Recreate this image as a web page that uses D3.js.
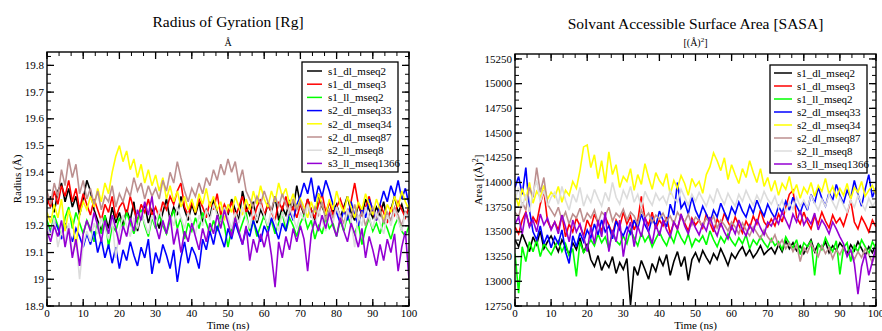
<!DOCTYPE html>
<html><head><meta charset="utf-8">
<script src="https://cdn.jsdelivr.net/npm/d3@7"></script>
<style>body{margin:0;background:#fff}svg{display:block}text{font-family:"Liberation Serif","Times New Roman",serif}</style>
</head><body>
<svg id="c" width="882" height="331" font-family="Liberation Serif, serif"></svg>
<script>
const seriesNames = ["s1_dl_mseq2","s1_dl_mseq3","s1_ll_mseq2","s2_dl_mseq33","s2_dl_mseq34","s2_dl_mseq87","s2_ll_mseq8","s3_ll_mseq1366"];
const seriesColors = ["#000000","#ff0000","#00ff00","#0000ff","#ffff00","#bc8f8f","#dcdcdc","#9400d3"];
const timeNs = d3.range(0, 101, 1);
const xTicks = [0,10,20,30,40,50,60,70,80,90,100];
const rgTicks = [18.9,19,19.1,19.2,19.3,19.4,19.5,19.6,19.7,19.8];
const sasaTicks = [12750,13000,13250,13500,13750,14000,14250,14500,14750,15000,15250];

// Radius of gyration (Å)
const rg_s1_dl_mseq2 = [19.28,19.31,19.25,19.33,19.36,19.29,19.34,19.27,19.31,19.24,19.30,19.37,19.33,19.26,19.22,19.18,19.24,19.19,19.27,19.21,19.25,19.20,19.26,19.22,19.29,19.18,19.24,19.28,19.21,19.26,19.23,19.19,19.25,19.30,19.22,19.27,19.24,19.31,19.26,19.22,19.28,19.24,19.29,19.21,19.26,19.23,19.30,19.25,19.20,19.27,19.24,19.30,19.26,19.22,19.33,19.27,19.24,19.29,19.21,19.26,19.23,19.28,19.25,19.31,19.22,19.27,19.24,19.29,19.26,19.35,19.28,19.24,19.30,19.26,19.22,19.32,19.27,19.24,19.29,19.25,19.28,19.23,19.27,19.31,19.25,19.22,19.28,19.24,19.30,19.26,19.23,19.27,19.24,19.29,19.22,19.26,19.31,19.25,19.28,19.23,19.27];
const rg_s1_dl_mseq3 = [19.30,19.27,19.33,19.28,19.35,19.31,19.37,19.29,19.34,19.26,19.32,19.28,19.24,19.30,19.26,19.22,19.28,19.25,19.31,19.23,19.27,19.29,19.24,19.31,19.26,19.22,19.28,19.25,19.30,19.24,19.27,19.23,19.29,19.26,19.31,19.28,19.33,19.36,19.27,19.24,19.29,19.25,19.30,19.27,19.23,19.29,19.26,19.32,19.24,19.28,19.25,19.29,19.23,19.27,19.31,19.25,19.28,19.22,19.27,19.30,19.24,19.28,19.25,19.22,19.29,19.26,19.31,19.24,19.27,19.23,19.28,19.25,19.30,19.26,19.23,19.28,19.32,19.25,19.29,19.24,19.27,19.30,19.26,19.23,19.29,19.36,19.28,19.24,19.27,19.31,19.25,19.22,19.28,19.25,19.21,19.27,19.24,19.29,19.26,19.23,19.27];
const rg_s1_ll_mseq2 = [19.22,19.18,19.24,19.20,19.16,19.23,19.27,19.19,19.25,19.21,19.17,19.22,19.19,19.14,19.21,19.17,19.24,19.12,19.20,19.18,19.23,19.19,19.25,19.21,19.17,19.22,19.26,19.20,19.16,19.23,19.19,19.24,19.20,19.17,19.22,19.26,19.19,19.23,19.15,19.21,19.18,19.23,19.19,19.25,19.21,19.17,19.22,19.18,19.24,19.20,19.12,19.19,19.23,19.17,19.21,19.25,19.18,19.22,19.16,19.20,19.24,19.19,19.22,19.17,19.21,19.25,19.18,19.23,19.20,19.16,19.21,19.24,19.19,19.22,19.15,19.20,19.17,19.23,19.19,19.21,19.16,19.22,19.18,19.24,19.20,19.17,19.21,19.13,19.19,19.23,19.18,19.21,19.17,19.22,19.19,19.15,19.20,19.23,19.18,19.16,19.20];
const rg_s2_dl_mseq33 = [19.20,19.17,19.22,19.19,19.15,19.21,19.18,19.14,19.19,19.16,19.12,19.17,19.13,19.18,19.10,19.15,19.08,19.13,19.06,19.12,19.04,19.11,19.07,19.14,19.09,19.05,19.12,19.08,19.15,19.02,19.10,19.06,19.13,19.09,19.04,19.11,18.99,19.08,19.14,19.06,19.12,19.09,19.04,19.15,19.11,19.18,19.13,19.20,19.16,19.12,19.19,19.15,19.21,19.17,19.13,19.19,19.16,19.22,19.18,19.14,19.20,19.17,19.23,19.19,19.15,19.21,19.18,19.26,19.22,19.28,19.31,19.36,19.32,19.38,19.29,19.35,19.31,19.37,19.33,19.28,19.25,19.21,19.26,19.22,19.29,19.24,19.20,19.27,19.23,19.30,19.26,19.22,19.28,19.33,19.29,19.35,19.31,19.37,19.30,19.34,19.28];
const rg_s2_dl_mseq34 = [19.25,19.21,19.28,19.23,19.30,19.18,19.26,19.22,19.12,19.24,19.29,19.26,19.31,19.27,19.34,19.29,19.36,19.32,19.40,19.46,19.50,19.44,19.48,19.41,19.45,19.38,19.43,19.36,19.41,19.35,19.39,19.33,19.38,19.30,19.35,19.29,19.33,19.27,19.31,19.26,19.30,19.25,19.32,19.28,19.34,19.27,19.31,19.26,19.29,19.22,19.28,19.25,19.31,19.27,19.24,19.30,19.26,19.33,19.28,19.35,19.30,19.27,19.33,19.29,19.36,19.31,19.34,19.28,19.32,19.26,19.30,19.27,19.23,19.29,19.25,19.32,19.28,19.24,19.30,19.26,19.33,19.28,19.25,19.31,19.27,19.23,19.29,19.26,19.32,19.28,19.24,19.30,19.26,19.22,19.28,19.25,19.31,19.27,19.33,19.29,19.26];
const rg_s2_dl_mseq87 = [19.33,19.28,19.36,19.31,19.41,19.35,19.45,19.38,19.43,19.32,19.37,19.30,19.34,19.28,19.33,19.26,19.31,19.29,19.35,19.27,19.32,19.29,19.34,19.31,19.38,19.33,19.36,19.30,19.35,19.31,19.34,19.30,19.37,19.33,19.40,19.36,19.44,19.38,19.33,19.29,19.34,19.31,19.36,19.32,19.38,19.35,19.41,19.37,19.43,19.39,19.45,19.40,19.44,19.36,19.41,19.33,19.30,19.27,19.31,19.28,19.33,19.29,19.26,19.31,19.27,19.32,19.28,19.25,19.30,19.26,19.29,19.25,19.28,19.23,19.27,19.24,19.29,19.22,19.26,19.23,19.27,19.24,19.21,19.26,19.23,19.28,19.22,19.25,19.20,19.24,19.27,19.23,19.26,19.21,19.25,19.22,19.27,19.24,19.20,19.25,19.22];
const rg_s2_ll_mseq8 = [19.20,19.16,19.23,19.12,19.18,19.14,19.21,19.09,19.15,19.00,19.13,19.18,19.14,19.21,19.17,19.23,19.19,19.15,19.22,19.08,19.18,19.24,19.20,19.16,19.23,19.19,19.25,19.21,19.17,19.24,19.20,19.26,19.22,19.18,19.24,19.20,19.27,19.23,19.19,19.25,19.21,19.17,19.24,19.20,19.26,19.22,19.28,19.24,19.20,19.27,19.23,19.19,19.25,19.21,19.27,19.23,19.19,19.26,19.22,19.28,19.24,19.20,19.26,19.22,19.18,19.25,19.21,19.27,19.23,19.19,19.25,19.22,19.28,19.24,19.20,19.26,19.22,19.18,19.25,19.21,19.27,19.23,19.19,19.26,19.22,19.12,19.24,19.20,19.27,19.23,19.19,19.25,19.21,19.17,19.24,19.20,19.26,19.22,19.18,19.25,19.21];
const rg_s3_ll_mseq1366 = [19.18,19.14,19.20,19.16,19.22,19.12,19.19,19.08,19.15,19.05,19.17,19.22,19.18,19.25,19.20,19.14,19.22,19.17,19.24,19.19,19.13,19.20,19.16,19.23,19.18,19.26,19.22,19.29,19.24,19.31,19.20,19.15,19.22,19.17,19.24,19.13,19.19,19.10,19.18,19.14,19.21,19.16,19.11,19.19,19.14,19.21,19.17,19.24,19.19,19.26,19.21,19.16,19.23,19.18,19.13,19.20,19.07,19.15,19.10,19.17,19.12,19.18,19.09,18.97,19.14,19.08,19.16,19.11,19.19,19.14,19.20,19.15,19.03,19.17,19.22,19.18,19.24,19.19,19.25,19.20,19.16,19.23,19.18,19.14,19.21,19.17,19.12,19.19,19.08,19.16,19.11,19.05,19.13,19.07,19.15,19.10,19.17,19.03,19.12,19.18,19.00];

// SASA (Å^2)
const sasa_s1_dl_mseq2 = [13420,13350,13480,13390,13300,13450,13370,13510,13330,13400,13460,13380,13300,13420,13350,13270,13390,13320,13440,13290,13380,13220,13150,13260,13110,13200,13140,13250,13080,13190,13120,13230,12760,13150,13060,13210,13120,13020,13180,13100,13240,13160,13270,13060,13200,13300,13150,13250,13010,13220,13290,13200,13310,13240,13180,13280,13220,13330,13250,13160,13280,13230,13300,13350,13260,13320,13240,13290,13360,13270,13310,13340,13280,13370,13300,13410,13330,13390,13310,13360,13280,13350,13420,13300,13380,13330,13400,13290,13360,13310,13390,13340,13280,13370,13310,13400,13330,13260,13350,13290,13380];
const sasa_s1_dl_mseq3 = [13550,13480,13620,13700,13560,13650,13590,13780,13920,13610,13530,13600,13520,13670,13450,13580,13500,13640,13560,13460,13620,13540,13680,13590,13510,13650,13570,13480,13620,13550,13700,13580,13660,13520,13610,13860,13640,13570,13700,13530,13620,13560,13650,13480,13600,13530,13670,13590,13510,13640,13570,13620,13540,13680,13590,13500,13630,13560,13690,13600,13530,13650,13570,13490,13610,13540,13660,13580,13720,13600,13550,13630,13560,13680,13600,13750,13880,13920,13650,13580,13700,13600,13530,13660,13580,13700,13610,13540,13670,13590,13640,13560,13680,13820,13600,13530,13650,13580,13500,13620,13550];
const sasa_s1_ll_mseq2 = [13280,12880,13350,13200,13400,13300,13420,13250,13380,13320,13270,13350,13410,13300,13380,13260,13330,13050,13400,13290,13350,13420,13360,13480,13390,13450,13330,13500,13410,13370,13460,13380,13520,13440,13360,13490,13400,13460,13350,13430,13500,13420,13360,13470,13390,13520,13440,13380,13480,13350,13430,13400,13460,13370,13510,13420,13350,13450,13390,13480,13410,13360,13440,13380,13470,13330,13420,13370,13450,13390,13340,13430,13360,13400,13320,13450,13380,13340,13420,13270,13390,13350,13410,13060,13380,13320,13440,13360,13300,13410,13070,13340,13390,13200,13360,13300,13420,13350,13280,13400,13330];
const sasa_s2_dl_mseq33 = [13950,14060,13880,14150,13720,13500,13420,13560,13380,13470,13340,13450,13380,13520,13300,13180,13460,13350,13490,13400,13520,13440,13580,13470,13620,13500,13560,13430,13610,13520,13460,13550,13480,13620,13530,13680,13570,13500,13640,13560,13710,13620,13550,13780,13670,14000,13740,13800,13680,13850,13720,13640,13760,13680,13590,13720,13650,13790,13700,13620,13750,13680,13800,13710,13650,13770,13690,13820,13730,13660,13780,13700,13640,13760,13690,13810,13720,13850,13760,13690,13800,13720,13880,13790,13950,13840,13760,13900,13820,13980,13870,13790,13920,13840,14020,13880,13760,13930,14080,13850,13950];
const sasa_s2_dl_mseq34 = [13880,13760,13940,13820,14000,13790,13910,13850,13970,13830,13900,13850,13960,13800,13920,13870,14010,13940,14120,14360,14380,14150,14280,14040,14220,13990,14310,14080,14180,13950,14060,14010,14140,13920,14080,13980,14190,14050,13930,14100,14020,13970,14090,13880,14020,13940,14070,13990,13870,14040,13960,14010,13890,14080,14160,14300,14220,14120,14250,14030,14180,14080,13990,14140,14050,14220,14100,14000,14140,13960,14050,13910,14020,13870,13990,13930,14060,13890,13980,13840,13950,13890,14000,13860,13970,13910,14040,13880,13960,13850,13940,13870,13990,13830,13950,13900,14010,13860,13920,13970,13880];
const sasa_s2_dl_mseq87 = [13700,13650,13800,13720,13950,13850,14150,13900,14050,13780,13720,13660,13750,13620,13700,13580,13680,13640,13740,13600,13690,13640,13720,13590,13700,13660,13750,13610,13690,13650,13730,13620,13700,13660,13580,13720,13640,13690,13600,13670,13630,13690,13610,13660,13580,13700,13640,13600,13680,13570,13650,13610,13560,13640,13590,13660,13540,13620,13570,13510,13600,13550,13480,13590,13520,13460,13550,13490,13430,13520,13450,13400,13470,13360,13420,13330,13390,13300,13370,13200,13340,13290,13380,13310,13250,13360,13280,13340,13230,13320,13270,13350,13260,13310,13220,13300,13240,13330,13270,13190,13300];
const sasa_s2_ll_mseq8 = [13820,13950,13750,13880,13700,13900,14020,13800,13920,13760,13850,13900,13780,13960,13820,13720,13880,13800,13950,13760,13870,13800,13930,13840,13760,13900,13810,14000,13850,13780,13920,13840,13960,13800,13880,13750,13910,13830,13770,13890,13820,13860,13780,13920,13840,13800,13930,13850,13770,13880,13810,13900,13830,13760,13870,13800,13940,13850,13780,13890,13820,13760,13880,13810,13920,13840,13770,13870,13800,13910,13830,13780,13860,13740,13820,13700,13800,13730,13850,13760,13820,13740,13870,13790,13720,13830,13760,13880,13800,13730,13850,13770,13700,13820,13750,13870,13790,13720,13840,13760,13810];
const sasa_s3_ll_mseq1366 = [13580,13650,13480,13700,13550,13620,13500,13680,13570,13640,13520,13600,13480,13670,13550,13400,13620,13500,13580,13450,13300,13550,13380,13620,13450,13700,13300,13520,13400,13620,13250,13480,13600,13350,13560,13450,13650,13500,13380,13580,13460,13620,13520,13450,13600,13530,13680,13560,13480,13620,13540,13470,13580,13510,13650,13540,13460,13590,13500,13430,13560,13480,13620,13530,13460,13570,13500,13630,13540,13470,13600,13560,13650,13580,13700,13620,13540,13680,13600,13720,13570,13640,13580,13690,13520,13620,13560,13480,13600,13530,13450,13380,13250,13320,13180,12870,13150,13280,13060,13200,13350];

const rgSeries = [rg_s1_dl_mseq2, rg_s1_dl_mseq3, rg_s1_ll_mseq2, rg_s2_dl_mseq33, rg_s2_dl_mseq34, rg_s2_dl_mseq87, rg_s2_ll_mseq8, rg_s3_ll_mseq1366];
const sasaSeries = [sasa_s1_dl_mseq2, sasa_s1_dl_mseq3, sasa_s1_ll_mseq2, sasa_s2_dl_mseq33, sasa_s2_dl_mseq34, sasa_s2_dl_mseq87, sasa_s2_ll_mseq8, sasa_s3_ll_mseq1366];

const svg = d3.select("#c");

function panel(cfg) {
  const g = svg.append("g");
  const x = d3.scaleLinear().domain([0, 100]).range([cfg.x0, cfg.x1]);
  const y = d3.scaleLinear().domain(cfg.yDomain).range([cfg.y1, cfg.y0]);
  const clipId = "clip" + cfg.id;
  svg.append("clipPath").attr("id", clipId).append("rect")
    .attr("x", cfg.x0).attr("y", cfg.y0).attr("width", cfg.x1 - cfg.x0).attr("height", cfg.y1 - cfg.y0);

  const lines = g.append("g").attr("clip-path", `url(#${clipId})`);
  const line = d3.line().x((d, i) => x(timeNs[i])).y(d => y(d));
  cfg.series.forEach((s, k) => {
    lines.append("path").datum(s).attr("d", line)
      .attr("fill", "none").attr("stroke", seriesColors[k]).attr("stroke-width", 1.6)
      .attr("stroke-linejoin", "miter").attr("stroke-miterlimit", 3);
  });

  const xMinor = d3.range(0, 100.001, 10 / 3);
  const yMinorStep = cfg.yMajor / 3;
  const yMinor = d3.range(cfg.yDomain[0], cfg.yDomain[1] + 1e-9, yMinorStep);

  const ax = g.append("g");
  const mk = (x1, y1, x2, y2, w) => ax.append("line").attr("x1", x1).attr("y1", y1).attr("x2", x2).attr("y2", y2)
    .attr("stroke", "#000").attr("stroke-width", w || 1);
  xMinor.forEach(v => { const p = x(v); mk(p, cfg.y1, p, cfg.y1 - 4); mk(p, cfg.y0, p, cfg.y0 + 4); });
  xTicks.forEach(v => { const p = x(v); mk(p, cfg.y1, p, cfg.y1 - 7, 1.3); mk(p, cfg.y0, p, cfg.y0 + 7, 1.3); });
  yMinor.forEach(v => { const p = y(v); mk(cfg.x0, p, cfg.x0 + 4, p); mk(cfg.x1, p, cfg.x1 - 4, p); });
  cfg.yTicks.forEach(v => { const p = y(v); mk(cfg.x0, p, cfg.x0 + 7, p, 1.3); mk(cfg.x1, p, cfg.x1 - 7, p, 1.3); });

  ax.append("rect").attr("x", cfg.x0).attr("y", cfg.y0).attr("width", cfg.x1 - cfg.x0).attr("height", cfg.y1 - cfg.y0)
    .attr("fill", "none").attr("stroke", "#000").attr("stroke-width", 1.4);

  xTicks.forEach(v => g.append("text").attr("x", x(v)).attr("y", cfg.y1 + 11).attr("text-anchor", "middle")
    .attr("font-size", 11).text(v));
  cfg.yTicks.forEach(v => g.append("text").attr("x", cfg.x0 - 3).attr("y", y(v) + 3.6).attr("text-anchor", "end")
    .attr("font-size", 11).text(cfg.fmt(v)));

  g.append("text").attr("x", (cfg.x0 + cfg.x1) / 2).attr("y", cfg.y1 + 23).attr("text-anchor", "middle")
    .attr("font-size", 11).text("Time (ns)");

  g.append("text").attr("x", (cfg.x0 + cfg.x1) / 2).attr("y", cfg.titleY).attr("text-anchor", "middle")
    .attr("font-size", 15.5).text(cfg.title);
  const st = g.append("text").attr("x", (cfg.x0 + cfg.x1) / 2).attr("y", 46).attr("text-anchor", "middle")
    .attr("font-size", 10);
  cfg.subtitle(st);

  const yl = g.append("text").attr("transform", `translate(${cfg.ylabX},${(cfg.y0 + cfg.y1) / 2}) rotate(-90)`)
    .attr("text-anchor", "middle").attr("font-size", 11);
  cfg.ylabel(yl);

  const L = cfg.legend;
  const lg = g.append("g");
  lg.append("rect").attr("x", L.x).attr("y", L.y).attr("width", L.w).attr("height", L.h)
    .attr("fill", "#fff").attr("stroke", "#000").attr("stroke-width", 1.3);
  seriesNames.forEach((n, k) => {
    const yy = L.y + L.first + k * L.step;
    lg.append("line").attr("x1", L.lx0).attr("x2", L.lx1).attr("y1", yy).attr("y2", yy)
      .attr("stroke", seriesColors[k]).attr("stroke-width", 1.5);
    lg.append("text").attr("x", L.tx).attr("y", yy + 3.8).attr("font-size", 11).text(n);
  });
}

panel({
  id: "rg", x0: 47, x1: 409, y0: 52, y1: 306, yDomain: [18.9, 19.85], yTicks: rgTicks, yMajor: 0.1,
  series: rgSeries, fmt: v => String(+v.toFixed(1)), title: "Radius of Gyration [Rg]", titleY: 27,
  subtitle: t => t.text("Å"),
  ylabX: 21,
  ylabel: t => t.text("Radius (Å)"),
  legend: { x: 302, y: 62, w: 96, h: 110, first: 9, step: 13.2, lx0: 307, lx1: 322, tx: 328 }
});

panel({
  id: "sasa", x0: 515, x1: 876, y0: 54, y1: 306, yDomain: [12750, 15300], yTicks: sasaTicks, yMajor: 250,
  series: sasaSeries, fmt: v => String(v), title: "Solvant Accessible Surface Area [SASA]", titleY: 29,
  subtitle: t => { t.append("tspan").text("[(Å)"); t.append("tspan").attr("dy", -4).attr("font-size", 7).text("2"); t.append("tspan").attr("dy", 4).text("]"); },
  ylabX: 482,
  ylabel: t => { t.append("tspan").text("Area [(Å)"); t.append("tspan").attr("dy", -4).attr("font-size", 8).text("2"); t.append("tspan").attr("dy", 4).text("]"); },
  legend: { x: 770, y: 65, w: 97, h: 108, first: 8, step: 13, lx0: 774, lx1: 792, tx: 797 }
});
</script>
</body></html>
